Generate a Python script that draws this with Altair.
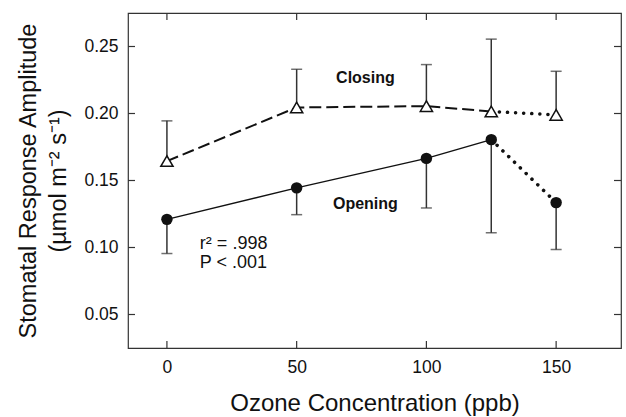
import altair as alt
import pandas as pd

# data
ozone = [0, 50, 100, 125, 150]
open_y = [0.121, 0.1445, 0.1665, 0.1805, 0.1335]
open_lo = [0.0955, 0.1245, 0.1295, 0.111, 0.0985]
close_y = [0.1645, 0.2045, 0.2055, 0.2015, 0.199]
close_hi = [0.1945, 0.233, 0.2365, 0.2555, 0.2315]

x_ticks = [0, 50, 100, 150]
y_ticks = [0.05, 0.10, 0.15, 0.20, 0.25]

W, H = 493, 335
FONT = "Liberation Sans"
INK = "#111111"

df = pd.DataFrame({"x": ozone, "oy": open_y, "olo": open_lo, "cy": close_y, "chi": close_hi})

xs = alt.Scale(domain=[-15, 175], nice=False, zero=False)
ys = alt.Scale(domain=[0.025, 0.275], nice=False, zero=False)

x_axis = alt.Axis(values=x_ticks, ticks=False, domain=False, grid=False,
                  labelFont=FONT, labelFontSize=17.5, labelColor=INK, labelPadding=10,
                  title="Ozone Concentration (ppb)", titleFont=FONT, titleFontSize=24,
                  titleFontWeight="normal", titleColor=INK,
                  titleX=W / 2, titleY=62, titleBaseline="alphabetic", titleAlign="center")
y_axis = alt.Axis(values=y_ticks, format=".2f", ticks=False, domain=False, grid=False,
                  labelFont=FONT, labelFontSize=17.5, labelColor=INK, labelPadding=10,
                  title=["Stomatal Response Amplitude", "(µmol m⁻² s⁻¹)"], titleFont=FONT,
                  titleFontSize=23.5, titleFontWeight="normal", titleColor=INK,
                  titleLineHeight=30, titleAngle=270, titleX=-93, titleY=H / 2,
                  titleBaseline="alphabetic", titleAlign="center")


def X(field="x"):
    return alt.X(field, type="quantitative", scale=xs, axis=x_axis)


def Y(field):
    return alt.Y(field, type="quantitative", scale=ys, axis=y_axis)


base = alt.Chart(df)
ERR = "#333333"

# error bars
open_err = base.mark_rule(color=ERR, strokeWidth=1.5).encode(x=X(), y=Y("oy"), y2="olo")
open_cap = base.mark_tick(color=ERR, orient="horizontal", size=11, thickness=1.5).encode(x=X(), y=Y("olo"))
close_err = base.mark_rule(color=ERR, strokeWidth=1.5).encode(x=X(), y=Y("cy"), y2="chi")
close_cap = base.mark_tick(color=ERR, orient="horizontal", size=11, thickness=1.5).encode(x=X(), y=Y("chi"))

df_a = df[df.x <= 125]
df_b = df[df.x >= 125]

open_line = alt.Chart(df_a).mark_line(color=INK, strokeWidth=1.5).encode(x=X(), y=Y("oy"))
open_dot = alt.Chart(df_b).mark_line(color=INK, strokeWidth=3.5, strokeDash=[0.1, 8],
                                     strokeCap="round").encode(x=X(), y=Y("oy"))
close_line = alt.Chart(df_a).mark_line(color=INK, strokeWidth=2, strokeDash=[12, 5]).encode(x=X(), y=Y("cy"))
close_dot = alt.Chart(df_b).mark_line(color=INK, strokeWidth=3.5, strokeDash=[0.1, 8],
                                      strokeCap="round").encode(x=X(), y=Y("cy"))

open_pts = base.mark_point(shape="circle", filled=True, color=INK, size=130, opacity=1).encode(x=X(), y=Y("oy"))
close_pts = base.mark_point(shape="triangle-up", filled=True, fill="white", stroke=INK,
                            strokeWidth=1.5, size=150, opacity=1).encode(x=X(), y=Y("cy"))

# inward ticks on all four sides
xt = pd.DataFrame({"t": x_ticks})
yt = pd.DataFrame({"t": y_ticks})
tick_style = dict(color="#333333", strokeWidth=1.2)
tb = alt.Chart(xt).mark_rule(**tick_style).encode(x=X("t"), y=alt.value(H - 7), y2=alt.value(H))
tt = alt.Chart(xt).mark_rule(**tick_style).encode(x=X("t"), y=alt.value(0), y2=alt.value(7))
tl = alt.Chart(yt).mark_rule(**tick_style).encode(y=Y("t"), x=alt.value(0), x2=alt.value(7))
tr = alt.Chart(yt).mark_rule(**tick_style).encode(y=Y("t"), x=alt.value(W - 7), x2=alt.value(W))

# annotations
lab = pd.DataFrame({"x": [76.5, 76.5], "y": [0.2263, 0.1328], "t": ["Closing", "Opening"]})
labels = alt.Chart(lab).mark_text(font=FONT, fontSize=16, fontWeight="bold", color=INK).encode(
    x=X(), y=Y("y"), text="t:N")
st = pd.DataFrame({"x": [12.7, 12.7], "y": [0.1028, 0.0883], "t": ["r² = .998", "P < .001"]})
stats = alt.Chart(st).mark_text(font=FONT, fontSize=18, color=INK, align="left").encode(
    x=X(), y=Y("y"), text="t:N")

chart = alt.layer(open_err, open_cap, close_err, close_cap, open_line, open_dot, close_line, close_dot,
                  open_pts, close_pts, tb, tt, tl, tr, labels, stats).properties(
    width=W, height=H,
    autosize=alt.AutoSizeParams(type="none"),
    padding={"left": 128, "top": 13, "right": 5, "bottom": 69},
    background="white",
).configure_view(stroke="#333333", strokeWidth=1.2)

chart.save("out.html", embed_options={"renderer": "svg", "actions": False})
